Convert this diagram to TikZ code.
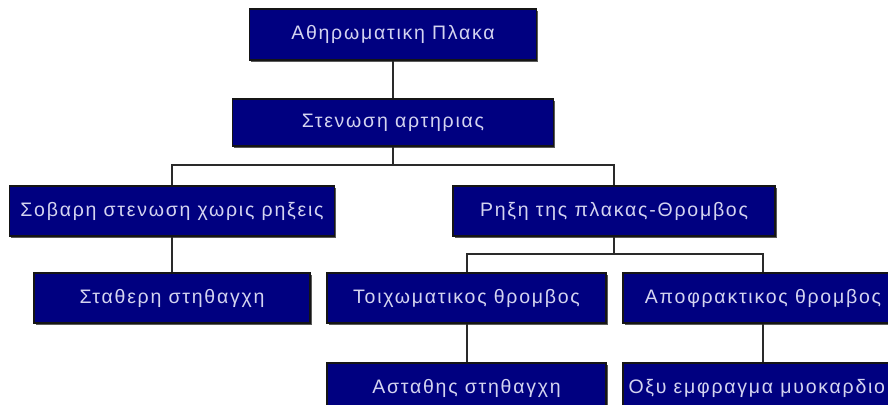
\documentclass[tikz,border=0pt]{standalone}
\usepackage{fontspec}
\setmainfont{Liberation Sans}
\usetikzlibrary{shadows}
\definecolor{boxnavy}{HTML}{000080}
\definecolor{boxedge}{HTML}{151515}
\definecolor{boxshade}{HTML}{5A5A5A}
\definecolor{boxtext}{HTML}{D4D4F0}
\definecolor{linkcol}{HTML}{2A2A2A}
\tikzset{
  stage/.style={rectangle, fill=boxnavy, draw=boxedge, line width=1.6pt,
    inner sep=0pt, text=boxtext,
    font=\fontsize{19.5}{22}\selectfont\addfontfeatures{LetterSpace=9},
    drop shadow={shadow xshift=1.8pt, shadow yshift=-1.8pt, fill=boxshade, opacity=1}},
  link/.style={draw=linkcol, line width=2pt}
}
\begin{document}
\begin{tikzpicture}[x=1pt, y=-1pt]
\useasboundingbox (0,0) rectangle (888,404);
\clip (0,0) rectangle (888,404);

% top of the tree
\node[stage, minimum width=287pt, minimum height=51pt] (plaque) at (393,34.5) {Αθηρωματικη Πλακα};
\node[stage, minimum width=321pt, minimum height=47pt] (stenosis) at (393,122.5) {Στενωση αρτηριας};

% second level
\node[stage, minimum width=325pt, minimum height=50pt] (severe) at (172,211) {Σοβαρη στενωση χωρις ρηξεις};
\node[stage, minimum width=322pt, minimum height=50pt] (rupture) at (614,211) {Ρηξη της πλακας-Θρομβος};

% third level
\node[stage, minimum width=276pt, minimum height=50pt] (stable) at (172,298) {Σταθερη στηθαγχη};
\node[stage, minimum width=279pt, minimum height=50pt] (mural) at (466.5,298) {Τοιχωματικος θρομβος};
\node[stage, minimum width=280pt, minimum height=50pt] (occl) at (763,298) {Αποφρακτικος θρομβος};

% bottom level (runs past the lower edge)
\node[stage, minimum width=279pt, minimum height=50pt] (unstable) at (466.5,388) {Ασταθης στηθαγχη};
\node[stage, minimum width=280pt, minimum height=50pt] (infarct) at (763,388) {Οξυ εμφραγμα μυοκαρδιου};

% junction rows
\coordinate (row1) at (0,165);
\coordinate (row2) at (0,254);

% connectors
\draw[link] (plaque.south) -- (stenosis.north);
\draw[link] (stenosis.south) -- (stenosis.south |- row1) -| (severe.north);
\draw[link] (stenosis.south |- row1) -| (rupture.north);
\draw[link] (severe.south) -- (stable.north);
\draw[link] (rupture.south) -- (rupture.south |- row2) -| (mural.north);
\draw[link] (rupture.south |- row2) -| (occl.north);
\draw[link] (mural.south) -- (unstable.north);
\draw[link] (occl.south) -- (infarct.north);
\end{tikzpicture}
\end{document}
